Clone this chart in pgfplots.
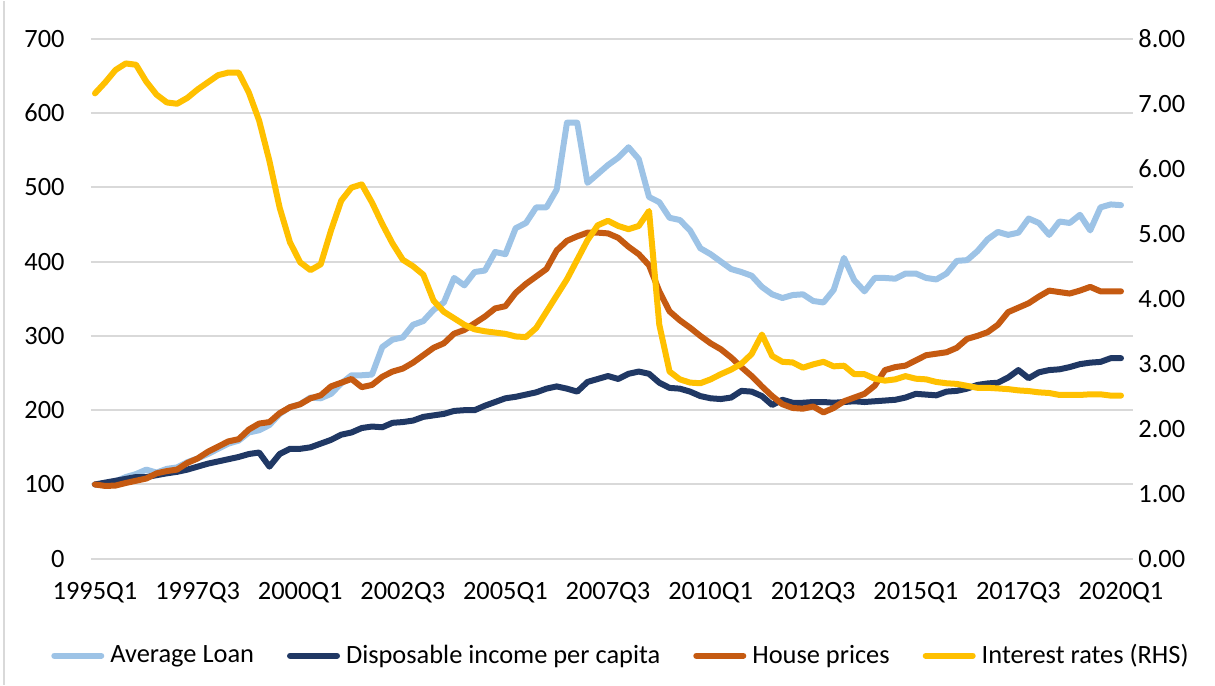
\documentclass[border=0pt]{standalone}
\usepackage{fontspec}
\setmainfont{Carlito}
\usepackage{pgfplots}
\usepackage{pgfplotstable}
\pgfplotsset{compat=1.18}
\definecolor{cLoan}{HTML}{9DC3E6}
\definecolor{cInc}{HTML}{203864}
\definecolor{cHouse}{HTML}{C55A11}
\definecolor{cRate}{HTML}{FFC000}
\definecolor{cGrid}{HTML}{D9D9D9}

\pgfplotstableread{
i loan inc house rate
0 100 100 100 7.16
1 101 102.5 98 7.33
2 104 105 98.5 7.52
3 110 107.5 102 7.62
4 114 110 105 7.60
5 120 110 108 7.34
6 116 112.5 115 7.14
7 121 115 118 7.02
8 123 117 120 7.00
9 130 120 129 7.09
10 135 124 135 7.22
11 141 128 144 7.33
12 148 131 151 7.44
13 155 134 158 7.48
14 159 137 161 7.48
15 170 141 174 7.17
16 173 143 182 6.74
17 180 124 184 6.12
18 195 141 196 5.40
19 204 148 204 4.87
20 208 148 208 4.56
21 217 150 216 4.44
22 216 155 220 4.53
23 222 160 232 5.05
24 236 167 237 5.51
25 247 170 242 5.71
26 247 176 231 5.76
27 248 178 234 5.48
28 285 177 245 5.15
29 295 183 252 4.85
30 298 184 256 4.60
31 315 186 264 4.50
32 320 191 274 4.37
33 335 193 284 3.97
34 345 195 290 3.80
35 378 199 303 3.70
36 368 200 308 3.60
37 386 200 317 3.53
38 388 206 326 3.50
39 413 211 337 3.48
40 410 216 340 3.46
41 445 218 358 3.42
42 452 221 370 3.41
43 473 224 380 3.55
44 473 229 390 3.80
45 497 232 415 4.05
46 587 229 428 4.30
47 587 225 434 4.60
48 506 238 439 4.90
49 518 242 439 5.13
50 530 246 438 5.20
51 540 242 432 5.12
52 554 249 420 5.07
53 538 252 410 5.12
54 487 249 395 5.35
55 480 237 360 3.60
56 459 230 333 2.88
57 456 229 321 2.76
58 442 225 311 2.71
59 418 219 300 2.70
60 410 216 290 2.76
61 400 215 282 2.84
62 390 217 271 2.91
63 386 226 258 3.00
64 381 225 246 3.15
65 366 219 232 3.45
66 356 207 219 3.12
67 351 214 208 3.03
68 355 210 203 3.02
69 356 210 202 2.94
70 347 211 205 2.99
71 345 211 197 3.03
72 362 210 203 2.96
73 405 211 212 2.97
74 375 212 217 2.84
75 360 211 222 2.84
76 378 212 233 2.77
77 378 213 254 2.74
78 377 214 258 2.76
79 384 217 260 2.81
80 384 222 267 2.77
81 378 221 274 2.76
82 376 220 276 2.72
83 384 225 278 2.70
84 401 226 284 2.69
85 402 229 296 2.66
86 414 234 300 2.63
87 430 236 305 2.63
88 440 237 315 2.62
89 436 244 332 2.61
90 439 254 338 2.59
91 458 243 344 2.58
92 452 251 353 2.56
93 436 254 361 2.55
94 454 255 359 2.52
95 452 258 357 2.52
96 463 262 361 2.52
97 442 264 366 2.53
98 473 265 360 2.53
99 477 270 360 2.51
100 476 270 360 2.51
}\data

\begin{document}
\begin{tikzpicture}
\pgfplotsset{
  base/.style={
    at={(0pt,0pt)}, anchor=south west,
    scale only axis, width=521pt, height=260pt,
    xmin=-0.39, xmax=101.17,
    major tick length=0pt,
    axis line style={draw=none},
    tick label style={font=\fontsize{13.2}{16}\selectfont, text=black},
    /pgf/number format/assume math mode=true,
    clip=false,
    every axis plot/.append style={line width=3pt, line join=round, line cap=round, mark=none},
  }
}
\begin{axis}[base,
  ymin=0, ymax=700, ytick={0,100,...,700},
  ymajorgrids, grid style={cGrid, line width=1pt},
  xtick={0,10,...,100},
  xticklabels={1995Q1,1997Q3,2000Q1,2002Q3,2005Q1,2007Q3,2010Q1,2012Q3,2015Q1,2017Q3,2020Q1},
  xticklabel style={anchor=north, inner sep=0pt, yshift=-11.5pt},
  yticklabel style={anchor=east, inner sep=0pt, xshift=-13pt},
]
\addplot[cLoan] table[x=i,y=loan]{\data};
\addplot[cInc] table[x=i,y=inc]{\data};
\addplot[cHouse] table[x=i,y=house]{\data};
\end{axis}
\begin{axis}[base,
  ymin=0, ymax=8, ytick={0,1,2,3,4,5,6,7,8},
  axis y line*=right, hide x axis,
  yticklabel style={anchor=west, inner sep=0pt, xshift=2.5pt,
    /pgf/number format/fixed, /pgf/number format/fixed zerofill, /pgf/number format/precision=2},
  legend columns=4,
  legend cell align=left,
  legend image code/.code={\draw[#1, line width=3pt, line cap=round] (0pt,0pt) -- (23.5pt,0pt);},
  legend style={at={(axis description cs:-0.0385,-0.1865)}, anchor=west, draw=none, fill=none,
    inner sep=0pt, font=\fontsize{13.2}{16}\selectfont, nodes={inner sep=0pt},
    /tikz/every odd column/.append style={column sep=3pt},
    /tikz/every even column/.append style={column sep=16.5pt}},
]
\addlegendimage{cLoan}
\addlegendentry{Average Loan}
\addlegendimage{cInc}
\addlegendentry{Disposable income per capita}
\addlegendimage{cHouse}
\addlegendentry{House prices}
\addplot[cRate] table[x=i,y=rate]{\data};
\addlegendentry{Interest rates (RHS)}
\end{axis}
\pgfresetboundingbox
\path (-45.5pt,-63pt) rectangle (562pt,279pt);
\draw[cGrid, line width=0.75pt] (-43.5pt,-63pt) -- (-43.5pt,279pt);
\end{tikzpicture}
\end{document}
